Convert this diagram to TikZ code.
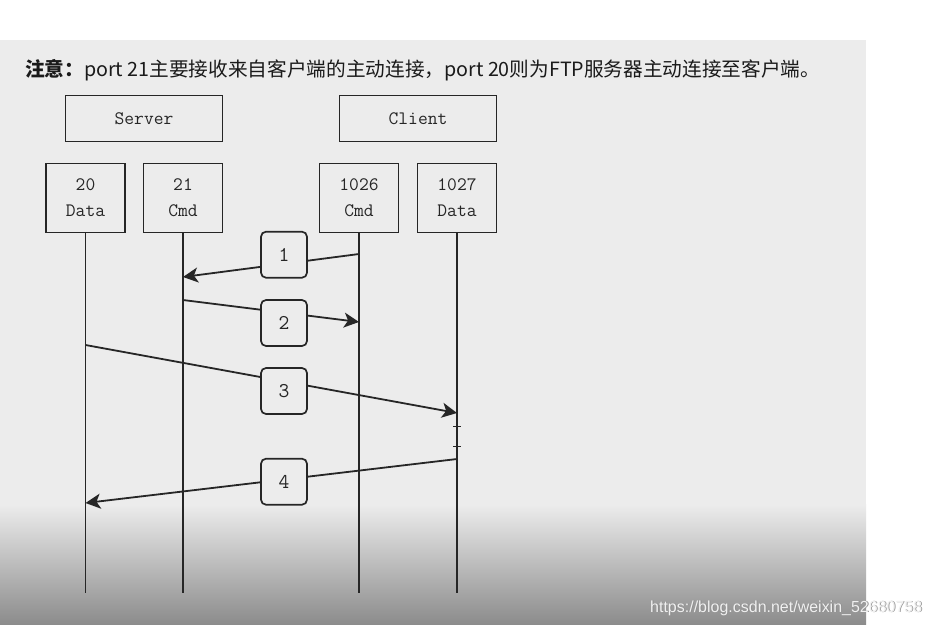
\documentclass[tikz,border=0pt]{standalone}
\usepackage{fontspec}
\usepackage{graphicx}
\newfontfamily\cjk{Noto Sans CJK SC}
\newfontfamily\wmfont{Liberation Sans}
\usetikzlibrary{arrows.meta,calc}
\definecolor{bg}{HTML}{ECECEC}
\definecolor{bgdark}{HTML}{8C8C8C}
\definecolor{ink}{HTML}{262626}
\definecolor{titleink}{HTML}{1A1A1A}
\tikzset{
  boxbase/.style={draw=ink, line width=1.7pt, fill=bg, align=center, inner sep=0pt,
    font=\ttfamily\fontsize{19}{26}\selectfont, text=ink},
  hostbox/.style={boxbase, minimum width=157pt, minimum height=46pt},
  portbox/.style={boxbase, minimum width=79pt, minimum height=69pt},
  numbox/.style={boxbase, rounded corners=5pt, minimum width=46pt, minimum height=46pt,
    font=\ttfamily\fontsize{21}{24}\selectfont},
  lifeline/.style={draw=ink, line width=1.5pt},
  msgline/.style={draw=ink, line width=1.8pt, -{Stealth[length=15pt,width=15pt,inset=4pt]}},
  tickmark/.style={draw=ink, line width=1pt}
}
\begin{document}
\begin{tikzpicture}[x=1pt,y=-1pt]
\useasboundingbox (0,0) rectangle (931,624);
\fill[white] (0,0) rectangle (931,624);
\fill[bg] (0,40) rectangle (866,505);
\shade[top color=bg, bottom color=bgdark] (0,504.5) rectangle (866,624);

% title
\node[anchor=base west, inner sep=0pt, text=titleink] (title) at (25,76)
  {\resizebox{795pt}{!}{\cjk\fontsize{18}{20}\selectfont\textbf{注意：}port 21主要接收来自客户端的主动连接，port 20则为FTP服务器主动连接至客户端。}};

% host boxes
\node[hostbox] (server) at (144,118.5) {Server};
\node[hostbox] (client) at (418,118.5) {Client};

% port boxes
\node[portbox] (p20) at (85.5,198) {20\\Data};
\node[portbox] (p21) at (183,198) {21\\Cmd};
\node[portbox] (p1026) at (359,198) {1026\\Cmd};
\node[portbox] (p1027) at (457,198) {1027\\Data};

% lifeline ends
\coordinate (e20) at (85.5,593);
\coordinate (e21) at (183,593);
\coordinate (e1026) at (359,593);
\coordinate (e1027) at (457,593);
\draw[lifeline] (p20.south) -- (e20);
\draw[lifeline] (p21.south) -- (e21);
\draw[lifeline] (p1026.south) -- (e1026);
\draw[lifeline] (p1027.south) -- (e1027);

% message end points
\coordinate (m1a) at (359,254);
\coordinate (m1b) at (183,277);
\coordinate (m2a) at (183,300);
\coordinate (m2b) at (359,322);
\coordinate (m3a) at (85.5,345);
\coordinate (m3b) at (457,413);
\coordinate (m4a) at (457,459);
\coordinate (m4b) at (85.5,503);

\draw[msgline] (m1a) -- (m1b);
\draw[msgline] (m2a) -- (m2b);
\draw[msgline] (m3a) -- (m3b);
\draw[msgline] (m4a) -- (m4b);

\node[numbox] (n1) at (284,254.7) {1};
\node[numbox] (n2) at (284,323) {2};
\node[numbox] (n3) at (284,391) {3};
\node[numbox] (n4) at (284,481.7) {4};

% small ticks on the 1027 lifeline
\draw[tickmark] (453,426) -- (461,426);
\draw[tickmark] (453,446) -- (461,446);

% watermark
\node[anchor=base west, inner sep=0pt, text=black!45] (wmshadow) at (650.8,612.8)
  {\resizebox{272pt}{!}{\wmfont\fontsize{15}{15}\selectfont https://blog.csdn.net/weixin\_52680758}};
\node[anchor=base west, inner sep=0pt, text=white!94!black] (wm) at (650,612)
  {\resizebox{272pt}{!}{\wmfont\fontsize{15}{15}\selectfont https://blog.csdn.net/weixin\_52680758}};
\end{tikzpicture}
\end{document}
